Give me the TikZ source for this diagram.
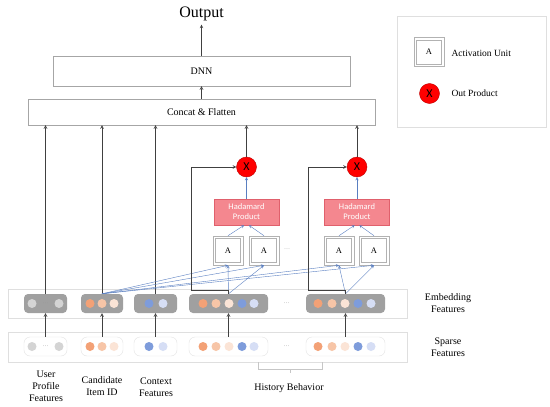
\documentclass[tikz,border=0pt]{standalone}
\usepackage{fontspec}
\setmainfont{Liberation Serif}
\newfontfamily\calfont{Carlito}

\definecolor{grpgray}{HTML}{A0A0A0}
\definecolor{dotgray}{HTML}{D4D4D4}
\definecolor{orA}{HTML}{F3A176}
\definecolor{orB}{HTML}{F7C5A7}
\definecolor{orC}{HTML}{FBE4D6}
\definecolor{blA}{HTML}{7E9CDB}
\definecolor{blB}{HTML}{D6DEF5}
\definecolor{hadfill}{HTML}{F4878F}
\definecolor{hadline}{HTML}{E0606C}
\definecolor{prodred}{HTML}{FF0000}
\definecolor{prodline}{HTML}{C00000}
\definecolor{lineblue}{HTML}{5A7FC1}
\definecolor{arrowgray}{HTML}{404040}

\begin{document}
\begin{tikzpicture}[
  x=1pt, y=-1pt,
  font=\fontsize{10}{12}\selectfont,
  layerbox/.style={rectangle, draw=gray!70, fill=white, minimum height=26pt, align=center},
  band/.style={rectangle, draw=gray!25, fill=white, minimum width=399pt, minimum height=29pt},
  embgrp/.style={rectangle, rounded corners=4pt, fill=grpgray, minimum height=19pt},
  spgrp/.style={rectangle, rounded corners=6pt, draw=gray!22, fill=white, minimum height=19pt},
  dot/.style={circle, inner sep=0pt, minimum size=9pt},
  actunit/.style={rectangle, draw=gray!60, line width=0.6pt, fill=white,
    minimum width=30pt, minimum height=29pt, font=\fontsize{8.5}{9}\selectfont,
    path picture={\draw[gray!60, line width=0.5pt]
      ([shift={(2.5pt,2.5pt)}]path picture bounding box.south west) rectangle
      ([shift={(-2.5pt,-2.5pt)}]path picture bounding box.north east);}},
  hadbox/.style={rectangle, draw=hadline, fill=hadfill, text=white, minimum width=65pt,
    minimum height=26pt, align=center, font=\calfont\fontsize{8.5}{10}\selectfont},
  prodcirc/.style={circle, draw=prodline, fill=prodred, minimum size=20pt, inner sep=0pt,
    font=\calfont\fontsize{12}{12}\selectfont},
  featlabel/.style={align=center, font=\fontsize{10}{12}\selectfont},
  ellip/.style={text=gray!80, font=\fontsize{6}{6}\selectfont, inner sep=0pt},
  arr/.style={->, >=stealth, semithick, arrowgray},
  barr/.style={->, >=stealth, thin, lineblue}
]
\useasboundingbox (0,0) rectangle (550,407);

% Top layers
\node[font=\fontsize{16}{18}\selectfont] (out) at (201.5,14) {Output};
\node[layerbox, minimum width=297pt, minimum height=30pt] (dnn) at (201.5,71) {DNN};
\node[layerbox, minimum width=347pt] (concat) at (201.5,112) {Concat \& Flatten};

% Legend
\node[rectangle, draw=gray!25, minimum width=149pt, minimum height=111pt] (legend) at (472,72) {};
\node[actunit] (leg-au) at (429,52) {A};
\node[anchor=west, font=\fontsize{9.5}{11}\selectfont] (leg-au-txt) at (448,53) {Activation Unit};
\node[prodcirc] (leg-prod) at (429.5,93.5) {X};
\node[anchor=west, font=\fontsize{9.5}{11}\selectfont] (leg-prod-txt) at (448,93) {Out Product};

% Feature bands
\node[band] (emb-band) at (207.5,303.5) {};
\node[band, minimum height=30pt] (sp-band) at (207.5,347) {};
\node[featlabel] (lb-emb) at (448,303) {Embedding\\Features};
\node[featlabel] (lb-sp) at (448,347) {Sparse\\Features};

% Embedding groups
\node[embgrp, minimum width=43pt] (e-user) at (45.5,303.5) {};
\node[embgrp, minimum width=42pt] (e-cand) at (102,303.5) {};
\node[embgrp, minimum width=43pt] (e-ctx) at (155.5,303.5) {};
\node[embgrp, minimum width=79pt] (e-hist1) at (228.5,303.5) {};
\node[embgrp, minimum width=79pt] (e-hist2) at (345.5,303.5) {};

% Sparse groups
\node[spgrp, minimum width=43pt] (s-user) at (45.5,346.5) {};
\node[spgrp, minimum width=42pt] (s-cand) at (102,346.5) {};
\node[spgrp, minimum width=43pt] (s-ctx) at (155.5,346.5) {};
\node[spgrp, minimum width=79pt] (s-hist1) at (228.5,346.5) {};
\node[spgrp, minimum width=79pt] (s-hist2) at (345.5,346.5) {};

% Feature dots
\foreach \y/\r in {303.5/e, 346.5/s}{
  \foreach \x/\c [count=\i] in {32/dotgray,59/dotgray,90/orA,102/orB,114/orC,149/blA,163/blB,
      203/orA,216/orB,229/orC,242/blA,254/blB,318/orA,332/orB,345/orC,358/blA,371/blB}
    \node[dot, fill=\c] (\r-dot\i) at (\x,\y) {};
  \node[ellip] (\r-udots) at (45.5,\y) {\ldots};
  \node[ellip] (\r-hdots) at (286.5,\y) {\ldots};
}

% Activation units and products
\node[actunit] (au1) at (228,250.5) {A};
\node[actunit] (au2) at (264,250.5) {A};
\node[ellip] (au-dots) at (287,249) {\ldots};
\node[actunit] (au3) at (339,250.5) {A};
\node[actunit] (au4) at (374,250.5) {A};
\node[hadbox] (had1) at (246.5,212) {Hadamard\\Product};
\node[hadbox] (had2) at (357,212) {Hadamard\\Product};
\node[prodcirc] (prod1) at (246.5,167) {X};
\node[prodcirc] (prod2) at (357,167) {X};

% Bottom labels
\node[featlabel] (lb-user) at (46,386) {User\\Profile\\Features};
\node[featlabel] (lb-cand) at (102,386) {Candidate\\Item ID};
\node[featlabel] (lb-ctx) at (156,387) {Context\\Features};
\node[featlabel] (lb-hist) at (289,388) {History Behavior};
\coordinate (hb-l) at (258,362);
\coordinate (hb-r) at (322,362);
\coordinate (hb-m) at (290,369);
\draw[gray!45] (hb-l) -- ++(0,7) -| (hb-r);
\draw[gray!45] (hb-m) -- ++(0,4);

% Arrows: sparse -> embedding
\foreach \g in {user,cand,ctx,hist1,hist2}
  \draw[arr] (s-\g.north) -- (e-\g.south);

% Arrows: embedding -> concat
\foreach \g in {user,cand,ctx}
  \draw[arr] (e-\g.north) -- (e-\g.north |- concat.south);

% Arrows: into activation units
\foreach \a in {au1,au2,au3,au4}
  \draw[barr] (e-cand.north) -- (\a.south);
\draw[barr] (e-hist1.north) -- (au1.south);
\draw[barr] (e-hist1.north) -- (au2.south);
\draw[barr] (e-hist2.north) -- (au3.south);
\draw[barr] (e-hist2.north) -- (au4.south);

% Arrows: activation units -> Hadamard -> product
\draw[barr] (au1.north) -- (had1.260);
\draw[barr] (au2.north) -- (had1.280);
\draw[barr] (au3.north) -- (had2.260);
\draw[barr] (au4.north) -- (had2.280);
\draw[barr] (had1.north) -- (prod1.south);
\draw[barr] (had2.north) -- (prod2.south);

% Behaviour embedding fed into the out product
\coordinate (fb1) at (191,290);
\coordinate (fb2) at (308,290);
\draw[arr] (e-hist1.north) |- (fb1) |- (prod1.west);
\draw[arr] (e-hist2.north) |- (fb2) |- (prod2.west);

% Arrows: up to the output
\draw[arr] (prod1.north) -- (prod1.north |- concat.south);
\draw[arr] (prod2.north) -- (prod2.north |- concat.south);
\draw[arr] (concat.north) -- (dnn.south);
\draw[arr] (dnn.north) -- (out.south);

\end{tikzpicture}
\end{document}
